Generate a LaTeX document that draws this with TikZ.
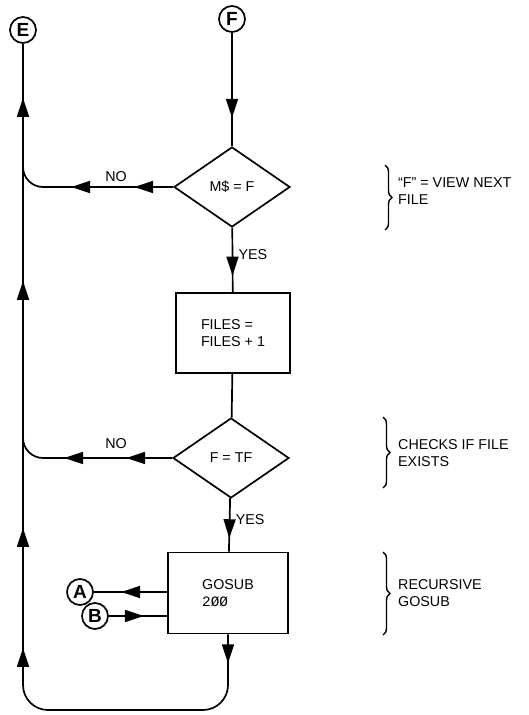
\documentclass[tikz,border=0pt]{standalone}
\usepackage{fontspec}
\setmainfont{Liberation Sans}
\setmonofont{Liberation Mono}
\usetikzlibrary{positioning,arrows.meta,shapes.geometric,decorations.markings,decorations.pathreplacing}

\tikzset{
  flowtip/.tip={Triangle[length=19pt,width=12pt]},
  tipat/.style={postaction={decorate,decoration={markings,mark=at position #1 with {\arrow{flowtip}}}}},
  conn/.style={circle,draw,minimum size=26pt,inner sep=0pt,font=\fontsize{19}{19}\selectfont\bfseries},
  decision/.style={diamond,draw,aspect=1.45,minimum width=116pt,minimum height=80pt,inner sep=0pt},
  proc/.style={rectangle,draw,minimum width=114pt,minimum height=80pt,align=left},
  note/.style={anchor=west,align=left},
  bracket/.style={decorate,decoration={brace,amplitude=7pt},line width=1.4pt}
}

\begin{document}
\begin{tikzpicture}[x=1pt,y=-1pt,line width=1.7pt,font=\fontsize{14.3}{16.5}\selectfont]
\useasboundingbox (0,0) rectangle (529,715);
\node[conn] (E) at (23,30) {E};
\node[conn] (F) at (232,19) {F};
\node[decision] (d1) at (232,187) {M\$ = F};
\node[proc] (b1) at (233,333) {FILES =\\FILES + 1};
\node[decision] (d2) at (231,458) {F = TF};
\node[proc,minimum width=120pt,minimum height=81pt] (b2) at (228,593) {GOSUB\\{\ttfamily 2ØØ}};
\node[conn] (A) at (80,592) {A};
\node[conn] (B) at (95,616) {B};
\coordinate (low) at (0,710);

\draw[tipat=85pt] (F) -- (d1);
\draw[tipat=48pt] (d1) -- (b1) node[pos=0.42,right=2pt] (yes1) {YES};
\draw (b1) -- (d2);
\draw[tipat=40pt] (d2) -- (b2) node[pos=0.4,right=2pt] (yes2) {YES};
\draw[rounded corners=20pt,tipat=39pt,tipat=102pt] (d1.west) -- (d1.west -| E) -- ++(0,-21);
\draw[rounded corners=20pt,tipat=46pt,tipat=108pt] (d2.west) -- (d2.west -| E) -- ++(0,-21);
\node (no1) at (116,177) {NO};
\node (no2) at (116,444) {NO};
\draw[tipat=46pt] (A -| b2.west) -- (A);
\draw[tipat=35pt] (B) -- (B -| b2.west);
\draw[rounded corners=25pt,tipat=29pt,tipat=-604pt,tipat=-484pt,tipat=-237pt,tipat=-54pt]
  (b2) -- (b2.south |- low) -| (E);

\draw[bracket] (385,165) -- (385,230);
\node[note] (c1) at (394,191) {“F” = VIEW NEXT\\FILE};
\draw[bracket] (383,417) -- (383,488);
\node[note] (c2) at (394,453) {CHECKS IF FILE\\EXISTS};
\draw[bracket] (383,552) -- (383,635);
\node[note] (c3) at (394,593) {RECURSIVE\\GOSUB};
\end{tikzpicture}
\end{document}
